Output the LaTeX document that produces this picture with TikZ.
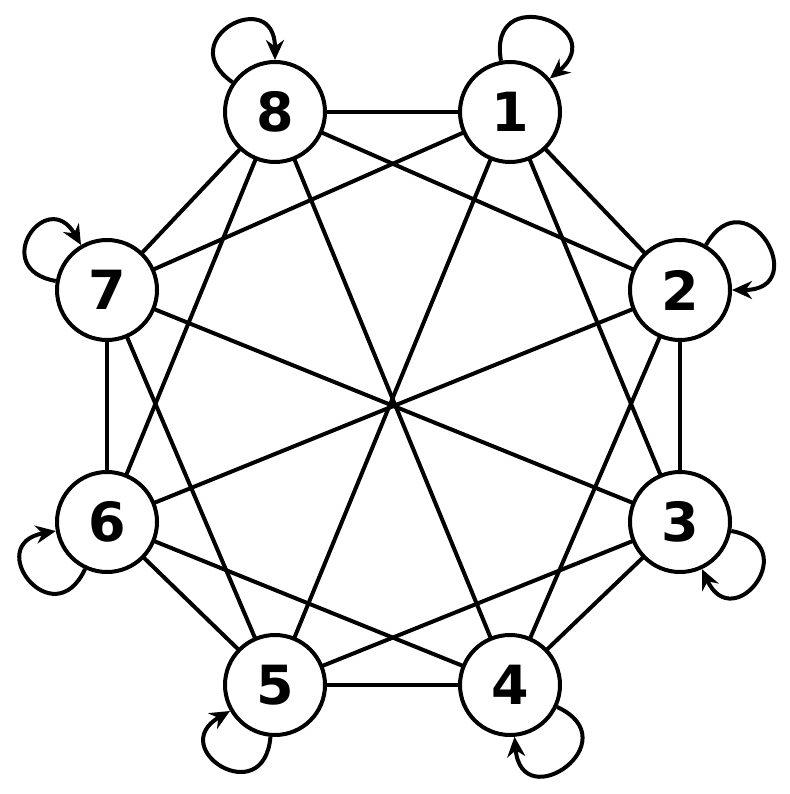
\documentclass[tikz,border=0pt]{standalone}
\usepackage{fontspec}
\setmainfont{DejaVu Sans}
\usetikzlibrary{arrows.meta}
\begin{document}
\begin{tikzpicture}[x=1pt,y=-1pt,
  vtx/.style={circle,draw,line width=4pt,fill=white,minimum size=100pt,inner sep=0pt,font=\fontsize{54}{54}\selectfont\bfseries},
  ln/.style={line width=4pt},
  lp/.style={line width=4pt,-{Stealth[length=20pt,width=18pt]},looseness=4}]
\useasboundingbox (0,0) rectangle (789,794);
\path (510,112) coordinate (p1) (680,290) coordinate (p2) (680,522) coordinate (p3) (510,685) coordinate (p4)
 (275,685) coordinate (p5) (107,522) coordinate (p6) (107,290) coordinate (p7) (275,112) coordinate (p8);
\foreach \a/\b in {1/2,2/3,3/4,4/5,5/6,6/7,7/8,8/1,1/3,2/4,3/5,4/6,5/7,6/8,7/1,8/2,1/5,2/6,3/7,4/8}
  \draw[ln] (p\a) -- (p\b);
\foreach \i in {1,...,8} \node[vtx] (n\i) at (p\i) {\i};
\draw[lp] (n1) to[out=100,in=40] (n1);
\draw[lp] (n2) to[out=60,in=0] (n2);
\draw[lp] (n3) to[out=-10,in=-65] (n3);
\draw[lp] (n4) to[out=-25,in=-85] (n4);
\draw[lp] (n5) to[out=-95,in=-150] (n5);
\draw[lp] (n6) to[out=-115,in=-170] (n6);
\draw[lp] (n7) to[out=170,in=120] (n7);
\draw[lp] (n8) to[out=145,in=90] (n8);
\end{tikzpicture}
\end{document}
